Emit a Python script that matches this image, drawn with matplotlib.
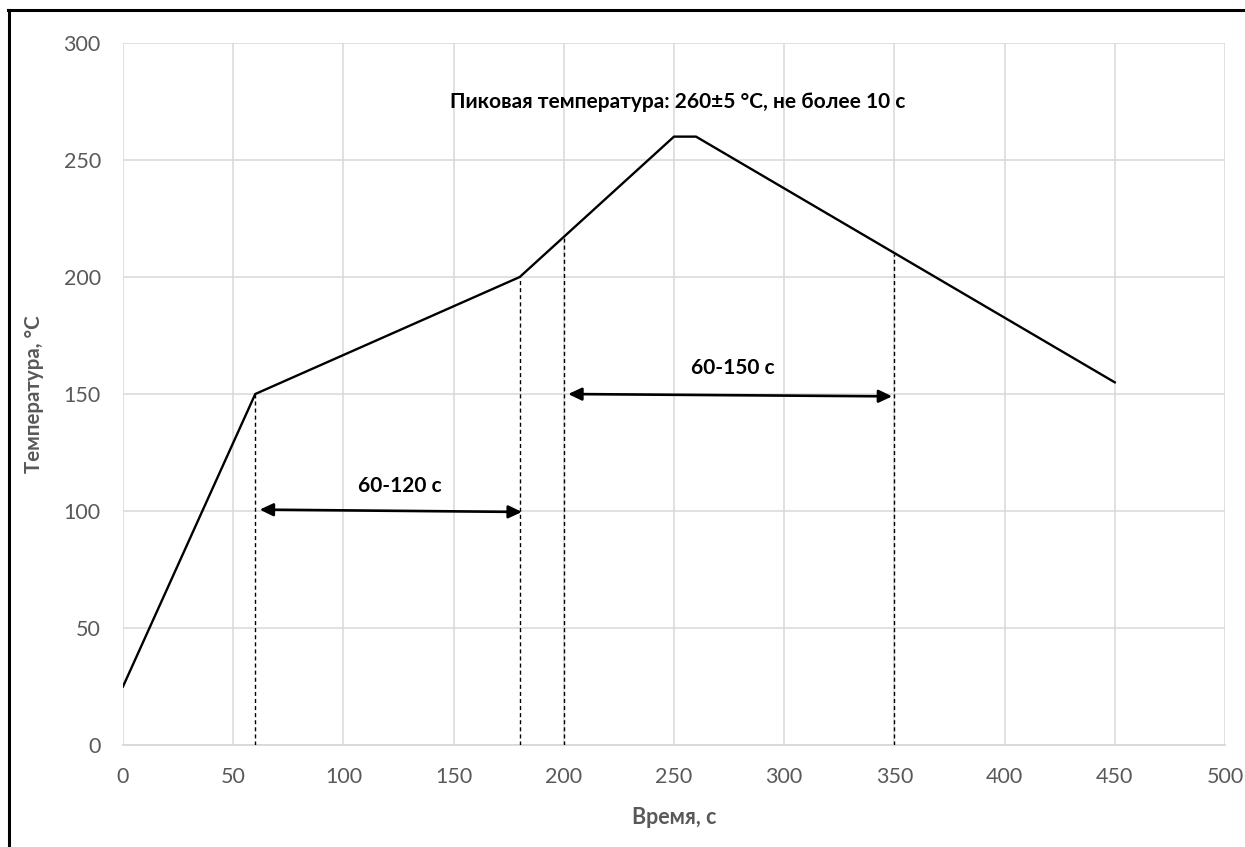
import matplotlib
matplotlib.use("Agg")
import matplotlib.pyplot as plt
from matplotlib.lines import Line2D

# Reflow soldering temperature profile
time_s = [0, 60, 180, 250, 260, 450]
temp_c = [25, 150, 200, 260, 260, 155]

# Vertical guide lines: (time, top temperature)
guide_x = [60, 180, 200, 350]
guide_top = [150, 200, 217, 210]

# Duration arrows: (x_start, y_start, x_end, y_end)
arrow1 = (62, 100.6, 181, 99.6)
arrow2 = (202, 150.0, 349, 149.0)

label1 = "60-120 с"
label2 = "60-150 с"
peak_label = "Пиковая температура: 260±5 °C, не более 10 с"

x_ticks = [0, 50, 100, 150, 200, 250, 300, 350, 400, 450, 500]
y_ticks = [0, 50, 100, 150, 200, 250, 300]

FONT = ["Lato", "DejaVu Sans"]
GRAY = "#595959"
GRID = "#d9d9d9"

fig = plt.figure(figsize=(12.45, 8.47), dpi=100)
ax = fig.add_axes([0.0988, 0.1204, 0.9839 - 0.0988, 0.9492 - 0.1204])

# Outer frame (left and top edges visible)
fig.add_artist(Line2D([0.0072, 0.0072], [-0.1, 0.9882], transform=fig.transFigure,
                      color="black", lw=2.2))
fig.add_artist(Line2D([0.0064, 1.1], [0.9882, 0.9882], transform=fig.transFigure,
                      color="black", lw=2.2))

ax.set_xlim(0, 500)
ax.set_ylim(0, 300)
ax.set_xticks(x_ticks)
ax.set_yticks(y_ticks)
ax.grid(True, color=GRID, lw=1.1)
ax.set_axisbelow(True)
for side in ["top", "right", "left"]:
    ax.spines[side].set_visible(False)
ax.spines["bottom"].set_color(GRID)
ax.spines["bottom"].set_linewidth(1.4)
ax.tick_params(length=0, colors=GRAY, labelsize=15.5)
ax.tick_params(axis="x", pad=16)
ax.tick_params(axis="y", pad=16)
for lbl in ax.get_xticklabels() + ax.get_yticklabels():
    lbl.set_fontfamily(FONT)

# Profile line
ax.plot(time_s, temp_c, color="black", lw=1.7, solid_joinstyle="miter", zorder=5)

# Dashed guides
for gx, gt in zip(guide_x, guide_top):
    ax.plot([gx, gx], [0, gt], color="black", lw=1.0, ls=(0, (2.9, 2.2)), zorder=4)

# Double-headed arrows
for (x0, y0, x1, y1) in (arrow1, arrow2):
    ax.annotate("", xy=(x1, y1), xytext=(x0, y0),
                arrowprops=dict(arrowstyle="<|-|>,head_length=0.8,head_width=0.38",
                                color="black", lw=1.9, shrinkA=0, shrinkB=0),
                zorder=6)

ax.text(125.5, 110.5, label1, ha="center", va="center", fontsize=15,
        fontweight="bold", family=FONT, color="black")
ax.text(276.5, 161.0, label2, ha="center", va="center", fontsize=15,
        fontweight="bold", family=FONT, color="black")
ax.text(251.5, 275.0, peak_label, ha="center", va="center", fontsize=15,
        fontweight="bold", family=FONT, color="black")

ax.set_xlabel("Время, с", fontsize=15.5, fontweight="bold", color=GRAY,
              family=FONT, labelpad=14)
ax.set_ylabel("Температура, °C", fontsize=14.8, fontweight="bold", color=GRAY,
              family=FONT, labelpad=14)

fig.savefig("out.png", dpi=100, facecolor="white")
